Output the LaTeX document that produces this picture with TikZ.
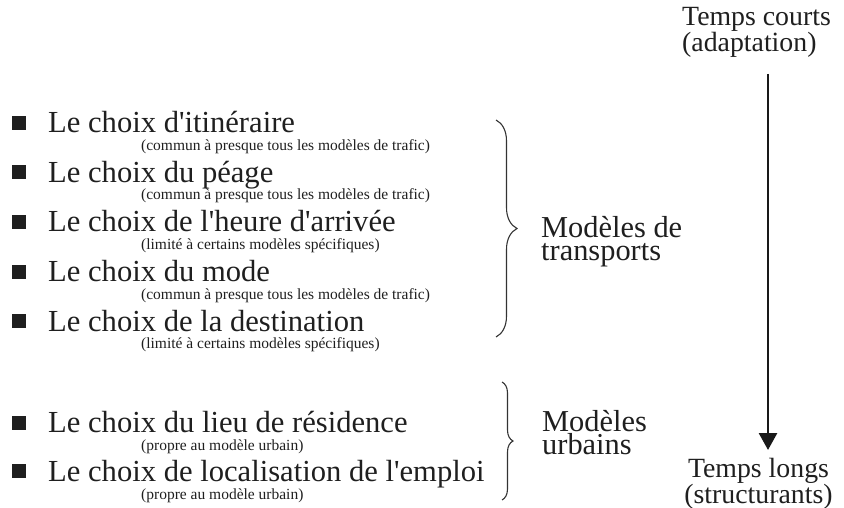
\documentclass[tikz,border=0pt]{standalone}
\usepackage{fontspec}
\setmainfont{Liberation Serif}[Ligatures=TeXOff]
\usetikzlibrary{arrows.meta}
\usetikzlibrary{decorations.pathreplacing}

\tikzset{
    choix/.style={anchor=base west, inner sep=0pt, text=black!88, font=\fontsize{30.6}{36}\selectfont},
    note/.style={anchor=base west, inner sep=0pt, text=black!88, font=\fontsize{15.5}{18}\selectfont},
    puce/.style={fill=black!88, minimum size=14pt, inner sep=0pt},
    groupe/.style={anchor=north west, inner sep=0pt, align=left, text=black!88, font=\fontsize{30.4}{23}\selectfont},
    temps/.style={inner sep=0pt, text=black!88, font=\fontsize{27.8}{19.5}\selectfont},
    accolade/.style={draw=black!80, line width=1.1pt, decorate, decoration={brace, amplitude=#1}},
}

\begin{document}
\begin{tikzpicture}[x=1pt, y=-1pt]
    \useasboundingbox (0,0) rectangle (844,508);
    % choix des modeles de transports
    \node[puce] (pitin) at (19,123) {};
    \node[choix] (itin) at (48,133) {Le choix d'itinéraire};
    \node[note] (nitin) at (141,150.5) {(commun à presque tous les modèles de trafic)};
    \node[puce] (ppeage) at (19,172.5) {};
    \node[choix] (peage) at (48,182.5) {Le choix du péage};
    \node[note] (npeage) at (141,200) {(commun à presque tous les modèles de trafic)};
    \node[puce] (pheure) at (19,222) {};
    \node[choix] (heure) at (48,232) {Le choix de l'heure d'arrivée};
    \node[note] (nheure) at (141,249.5) {(limité à certains modèles spécifiques)};
    \node[puce] (pmode) at (19,271.5) {};
    \node[choix] (mode) at (48,281.5) {Le choix du mode};
    \node[note] (nmode) at (141,299) {(commun à presque tous les modèles de trafic)};
    \node[puce] (pdest) at (19,321) {};
    \node[choix] (dest) at (48,331) {Le choix de la destination};
    \node[note] (ndest) at (141,348.5) {(limité à certains modèles spécifiques)};
    % choix des modeles urbains
    \node[puce] (plieu) at (19,422.5) {};
    \node[choix] (lieu) at (48,432.5) {Le choix du lieu de résidence};
    \node[note] (nlieu) at (141,450) {(propre au modèle urbain)};
    \node[puce] (pemploi) at (19,471) {};
    \node[choix] (emploi) at (48,481) {Le choix de localisation de l'emploi};
    \node[note] (nemploi) at (141,499) {(propre au modèle urbain)};
    % accolades
    \coordinate (trhaut) at (496,120);
    \coordinate (trbas) at (496,337);
    \coordinate (urhaut) at (502,382);
    \coordinate (urbas) at (502,500);
    \draw[accolade=21pt] (trhaut) -- (trbas);
    \draw[accolade=11pt] (urhaut) -- (urbas);
    \node[groupe] (transports) at (541,216) {Modèles de\\transports};
    \node[groupe] (urbains) at (542,410.5) {Modèles\\urbains};
    % axe du temps
    \node[temps, anchor=north west, align=left] (courts) at (682,7) {Temps courts\\(adaptation)};
    \node[temps, anchor=north, align=center] (longs) at (758.5,458) {Temps longs\\(structurants)};
    \coordinate (tdebut) at (768,74);
    \coordinate (tfin) at (768,450);
    \draw[line width=2.8pt, black!90, -{Triangle[width=18pt, length=17pt]}] (tdebut) -- (tfin);
\end{tikzpicture}
\end{document}
